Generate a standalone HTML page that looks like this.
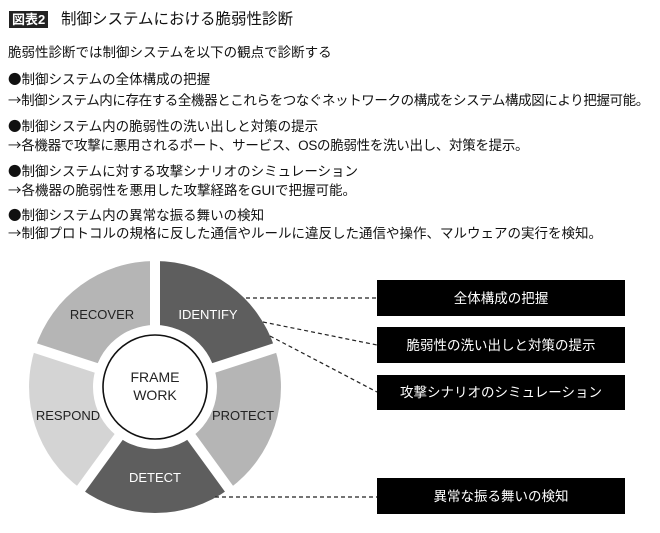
<!DOCTYPE html>
<html><head><meta charset="utf-8"><style>
html,body{margin:0;padding:0;background:#fff}
body{width:660px;height:533px;position:relative;overflow:hidden;font-family:"Liberation Sans","Noto Sans CJK JP",sans-serif;color:#111}
.t{position:absolute;left:8px;font-size:13.5px;white-space:nowrap;line-height:16px}
.j{font-family:"Noto Sans CJK JP",sans-serif}
</style></head><body>
<div style="position:absolute;left:9px;top:11px;background:#222;color:#fff;font-size:13px;line-height:17px;padding:0 3px;font-weight:bold">図表2</div>
<div style="position:absolute;left:61px;top:10px;font-size:15.5px;white-space:nowrap;line-height:19px">制御システムにおける脆弱性診断</div>
<div class="t" style="top:45px">脆弱性診断では制御システムを以下の観点で診断する</div>
<div class="t" style="top:70px"><span class="j">●</span>制御システムの全体構成の把握</div>
<div class="t" style="top:91px;letter-spacing:-0.4px"><span class="j">→</span>制御システム内に存在する全機器とこれらをつなぐネットワークの構成をシステム構成図により把握可能。</div>
<div class="t" style="top:117px"><span class="j">●</span>制御システム内の脆弱性の洗い出しと対策の提示</div>
<div class="t" style="top:136px;letter-spacing:-0.3px"><span class="j">→</span>各機器で攻撃に悪用されるポート、サービス、OSの脆弱性を洗い出し、対策を提示。</div>
<div class="t" style="top:162px"><span class="j">●</span>制御システムに対する攻撃シナリオのシミュレーション</div>
<div class="t" style="top:181px"><span class="j">→</span>各機器の脆弱性を悪用した攻撃経路をGUIで把握可能。</div>
<div class="t" style="top:206px"><span class="j">●</span>制御システム内の異常な振る舞いの検知</div>
<div class="t" style="top:224px"><span class="j">→</span>制御プロトコルの規格に反した通信やルールに違反した通信や操作、マルウェアの実行を検知。</div>
<svg width="660" height="533" style="position:absolute;left:0;top:0" font-family="Liberation Sans, sans-serif">
<g transform="translate(155,387)">
<path d="M0,0 L0,-126 A126,126 0 0 1 119.8,-38.9 Z" fill="#5e5e5e"/>
<path d="M0,0 L119.8,-38.9 A126,126 0 0 1 74.1,101.9 Z" fill="#b5b5b5"/>
<path d="M0,0 L74.1,101.9 A126,126 0 0 1 -74.1,101.9 Z" fill="#5e5e5e"/>
<path d="M0,0 L-74.1,101.9 A126,126 0 0 1 -119.8,-38.9 Z" fill="#d4d4d4"/>
<path d="M0,0 L-119.8,-38.9 A126,126 0 0 1 0,-126 Z" fill="#b5b5b5"/>
<g stroke="#fff" stroke-width="10">
<line x1="0" y1="0" x2="0" y2="-135"/>
<line x1="0" y1="0" x2="128.4" y2="-41.7"/>
<line x1="0" y1="0" x2="79.4" y2="109.2"/>
<line x1="0" y1="0" x2="-79.4" y2="109.2"/>
<line x1="0" y1="0" x2="-128.4" y2="-41.7"/>
</g>
<circle r="62" fill="#fff"/>
<circle r="52" fill="#fff" stroke="#111" stroke-width="1.6"/>
<text x="0" y="-5" text-anchor="middle" font-size="14" fill="#222">FRAME</text>
<text x="0" y="13" text-anchor="middle" font-size="14" fill="#222">WORK</text>
</g>
<g font-size="13" text-anchor="middle">
<text x="102" y="319" fill="#222">RECOVER</text>
<text x="208" y="319" fill="#fff">IDENTIFY</text>
<text x="243" y="420" fill="#222">PROTECT</text>
<text x="68" y="420" fill="#222">RESPOND</text>
<text x="155" y="482" fill="#fff">DETECT</text>
</g>
<g stroke="#222" stroke-width="1.2" stroke-dasharray="4,3" fill="none">
<line x1="246" y1="298" x2="377" y2="298"/>
<line x1="263" y1="322" x2="377" y2="345"/>
<line x1="270" y1="336" x2="377" y2="392"/>
<line x1="215" y1="497" x2="377" y2="497"/>
</g>
<g fill="#000">
<rect x="377" y="280" width="248" height="36"/>
<rect x="377" y="327" width="248" height="36"/>
<rect x="377" y="375" width="248" height="35"/>
<rect x="377" y="478" width="248" height="36"/>
</g>
<g fill="#fff" font-size="13.5" text-anchor="middle" font-family="Liberation Sans, Noto Sans CJK JP, sans-serif">
<text x="501" y="303">全体構成の把握</text>
<text x="501" y="350">脆弱性の洗い出しと対策の提示</text>
<text x="501" y="397">攻撃シナリオのシミュレーション</text>
<text x="501" y="501">異常な振る舞いの検知</text>
</g>
</svg>
</body></html>
